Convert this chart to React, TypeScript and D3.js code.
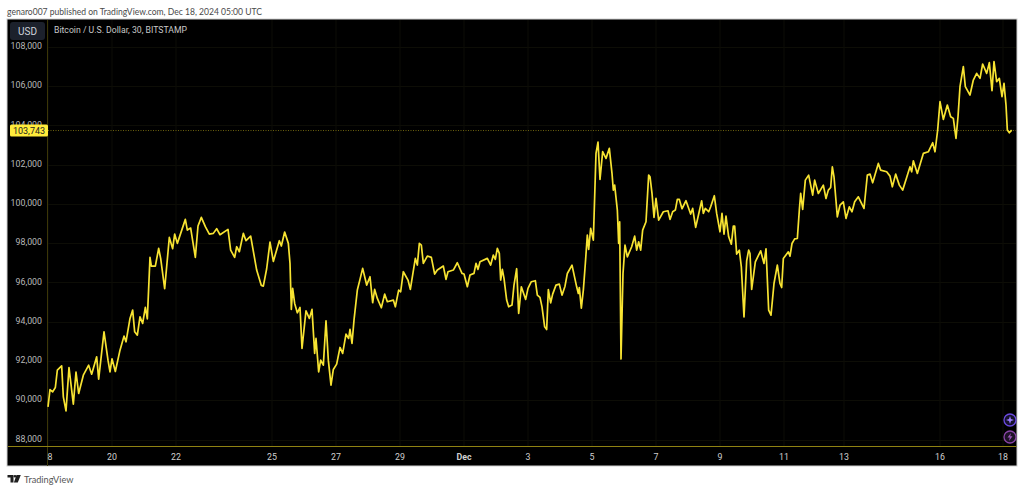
import React from "react";
import * as d3 from "d3";

// 30-minute bar index counted from Nov 18
const barIndex = [0,3,7,11,14,20.5,23,27,31.5,38,42,46,53,61,65.5,73,76,84,90,93,96,101,108,114,117,123,127,130,134,138,142,146,149,153,155,161,166,169,175,182,187,190,194,206,209,214,221,225,230,236,242,248,253,258,270,274,280,283,287,293,297,304,313,320,323,328,333,338,347,350,355,360.5,363,365,367,370,374,378,381,387,392,396,400,402,406,409,413,417,420.5,424.5,428,433,438,442,447,451,453,456,459,464,468,472,478,483,487,490,494,500,505,509,518,521,526,529,533,540,543.5,551,554,557,560,563,569,575,580,584,593,597,600,608,614,621,624,629,633,639,642,645,648,659,664,668,671,674,677,679,681.5,684,688,691,696,699,703,706,710,716.5,720,725,731,734,738,741,745,748,750.5,754,757,762,767,771,775.5,779,786,793,795.5,797,800,803,806,809,811,814,818,822,825,828,832,837,842,846,848,850,854,856,857.5,859.5,862.5,865.5,869,875.5,880,883,886,889,892,897,901,903,906,909,912,916,923,930,933,937,941,944,947,951,957,964,967,971.5,980.5,983,986,991,994,999.5,1003,1008,1011,1014,1017,1021,1025,1028,1030,1033,1037,1040,1044,1048,1051,1053,1055.5,1061,1069,1074,1077,1081,1084.5,1089,1094,1098,1100.5,1103,1110.5,1113,1116,1120,1124,1127,1129,1132,1136,1141,1147,1150,1155.5,1163,1167,1170.5,1174,1176.5,1179,1184,1188,1193,1197,1202,1206,1210,1215.5,1224,1229,1233,1237,1245.5,1249,1258,1263,1266.5,1271.5,1277,1282,1288,1293,1295.5,1298,1304,1313,1320.5,1327,1330.5,1334.5,1338,1343,1349,1354,1358,1362,1365,1368,1373,1376,1383,1388,1393,1398,1402,1408,1412,1416,1419,1423,1427,1431,1434,1437,1439,1442,1445.5];

const closePrices = [89612,90496,90377,90598,91482,91703,90122,89408,91618,89748,91380,90292,91227,91737,91278,92162,91023,93437,91992,91397,92060,91414,92502,93216,92927,94117,94542,93437,93267,94202,93862,94678,94100,97228,96786,96786,97687,97177,95630,98248,97670,98418,97942,99166,98622,98724,97228,98826,99268,98792,98418,98452,98690,98384,98656,97602,97228,97772,97517,98452,98078,98316,96582,95800,95766,96650,98010,97024,98078,97806,98520,97943,96923,94577,95648,94883,94407,94679,92588,94509,94118,94577,92333,93098,91398,91993,91738,94000,91993,90718,91517,91789,92639,92333,93319,93098,93557,92843,94033,95563,96107,96668,95818,96243,94917,95597,95138,94662,95359,94968,95053,94713,95563,95478,96498,96073,95597,97178,96838,97943,97858,96923,97297,97229,96379,96583,96787,96107,96498,96583,96957,96413,96379,95733,96328,96413,96923,96617,97008,97178,96838,97348,97127,97688,97433,96073,96617,96158,95053,94713,94798,95818,96651,94373,95733,95087,95648,95988,96039,95308,95189,94709,93689,93553,95593,94913,95355,95814,95865,95304,95763,96409,96834,95729,95389,95695,94641,95559,96919,98364,97633,98704,98109,102529,103107,101203,102614,102274,102784,101509,100659,100914,99639,97939,99044,92057,96409,97854,97259,97769,98313,97599,98024,97599,98619,99044,101424,101339,100489,99265,100234,99129,99554,99605,99163,99554,99639,100183,100183,99707,100115,99435,99724,98755,100115,99469,99724,99554,99809,100370,99469,98534,99469,98415,99333,98279,97905,98823,98823,97395,97599,96749,94199,97055,97599,97429,95593,97004,97565,96919,97667,94539,94284,95899,96834,95896,95692,97171,97511,97290,97936,98174,98191,99636,100486,99670,101166,101421,100401,101166,100486,100911,100231,100656,100792,101846,101336,99296,99891,100061,99211,99806,99551,100061,100316,99721,101421,101472,101030,102016,101676,101591,101370,100826,101472,100911,100656,101302,101846,101591,102152,101506,102526,102611,103070,102611,103716,105161,104260,104991,104396,104311,103291,104396,105926,106946,105926,105501,106266,106606,106351,107082,106606,107150,105722,107201,106181,106351,105416,106096,104991,103716,103580,103716];

const priceTicks = [88000,90000,92000,94000,96000,98000,100000,102000,104000,106000,108000];
const timeTickLabels = ["8","20","22","25","27","29","Dec","3","5","7","9","11","13","16","18"];
const timeTickBars = [0,96,192,336,432,528,624,720,816,912,1008,1104,1194,1338,1432.5];
const lastPrice = 103743;

const FONT = "Roboto, sans-serif";

export default function App() {
  const x = d3.scaleLinear().domain([0, 1440]).range([48, 1008]);
  const y = d3.scaleLinear().domain([88000, 108000]).range([438.5, 46]);
  const points = barIndex.map((b, i) => [x(b), y(closePrices[i])] as [number, number]);
  const path = d3.line().curve(d3.curveLinear)(points) || "";
  const fmt = d3.format(",");
  const lastY = y(lastPrice) + 1;

  return (
    <svg width={1024} height={491} style={{ position: "absolute", left: 0, top: 0, background: "#fff" }} fontFamily={FONT}>
      <text x={7} y={14.5} fontSize={9.6} fill="#4a4a4a" fontFamily="Lato, sans-serif" textLength={255} lengthAdjust="spacingAndGlyphs">
        genaro007 published on TradingView.com, Dec 18, 2024 05:00 UTC
      </text>

      <rect x={7} y={19} width={1010} height={447} fill="#000" stroke="#cfcfcf" strokeWidth={1} />

      {priceTicks.map((p) => (
        <line key={p} x1={48} x2={1016} y1={Math.round(y(p)) + 1.5} y2={Math.round(y(p)) + 1.5} stroke="#0d0d06" />
      ))}
      {timeTickBars.map((b, i) => (
        <line key={i} x1={x(b)} x2={x(b)} y1={20} y2={446} stroke="#0d0d06" />
      ))}

      <line x1={47.5} x2={47.5} y1={20} y2={466} stroke="#3b3608" />
      <line x1={8} x2={1016.5} y1={446.5} y2={446.5} stroke="#8f8212" strokeWidth={1} />
      <line x1={48} x2={1016} y1={lastY} y2={lastY} stroke="#8a7d14" strokeWidth={0.8} strokeDasharray="1 1.5" />

      <path d={path} fill="none" stroke="#f7e332" strokeWidth={1.7} strokeLinejoin="round" />

      {priceTicks.map((p) => (
        <text key={p} x={42} y={y(p) + 3} fontSize={8.8} fill="#b8b8b8" textAnchor="end">
          {fmt(p)}
        </text>
      ))}

      {timeTickBars.map((b, i) => (
        <text
          key={i}
          x={i === 0 ? x(b) + 2 : x(b)}
          y={459.5}
          fontSize={8.8}
          fill="#cfcfcf"
          fontWeight={timeTickLabels[i] === "Dec" ? 700 : 400}
          textAnchor="middle"
        >
          {timeTickLabels[i]}
        </text>
      ))}

      <rect x={10} y={124.5} width={38} height={12} rx={1.5} fill="#ffeb3b" />
      <text x={29} y={133.5} fontSize={9} fill="#222" textAnchor="middle">
        {fmt(lastPrice)}
      </text>

      <rect x={10} y={22} width={35} height={18} rx={3} fill="#1c212c" />
      <text x={27.5} y={34.5} fontSize={10} fill="#cfd3da" textAnchor="middle">USD</text>
      <text x={54} y={33} fontSize={8.7} fill="#c8c8c8" textLength={133} lengthAdjust="spacingAndGlyphs">Bitcoin / U.S. Dollar, 30, BITSTAMP</text>

      <circle cx={1010} cy={420} r={6} fill="#17122c" stroke="#6a4ae0" strokeWidth={1.3} />
      <path d="M1010 416 L1011 419 L1014 420 L1011 421 L1010 424 L1009 421 L1006 420 L1009 419 Z" fill="#9a7cff" />
      <circle cx={1010} cy={437} r={6} fill="#1e1226" stroke="#8a45a8" strokeWidth={1.3} />
      <path d="M1011 433 L1007.5 437.6 L1009.8 437.6 L1009 441 L1012.5 436.3 L1010.2 436.3 Z" fill="#9a55b8" />

      <path d="M7.5 475 H13.5 V482.5 H10.5 V477.6 H7.5 Z M16.5 475 H20.8 L17.8 482.5 H13.9 Z" fill="#1f1f1f" />
      <circle cx={15} cy={476.3} r={1.3} fill="#1f1f1f" />
      <text x={24} y={483} fontSize={10} fill="#555" fontFamily="Lato, sans-serif" textLength={49.5} lengthAdjust="spacingAndGlyphs">TradingView</text>
    </svg>
  );
}
